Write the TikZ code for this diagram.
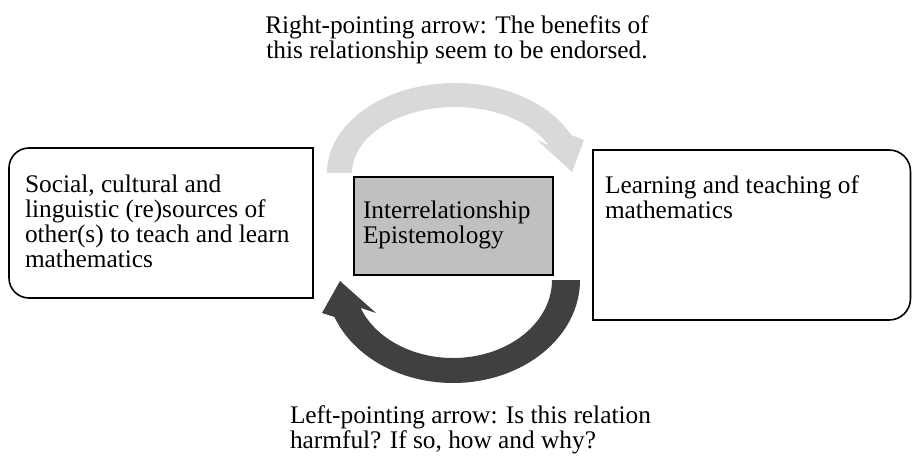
\documentclass[tikz,border=0pt]{standalone}
\usepackage{fontspec}
\setmainfont{Liberation Serif}
\definecolor{topgray}{HTML}{D9D9D9}
\definecolor{botgray}{HTML}{404040}
\definecolor{midgray}{HTML}{C0C0C0}
\begin{document}
\begin{tikzpicture}[x=0.75pt,y=0.75pt,
  box/.style={draw=none,inner sep=0pt,outer sep=0pt},
  lbl/.style={inner sep=0pt,outer sep=0pt,font=\fontsize{19}{18.75}\selectfont},
  outline/.style={draw=black,line width=1.2pt}]
\useasboundingbox (0,0) rectangle (912,457);
% arrows
\fill[topgray] (327,284) arc[start angle=180,end angle=25,x radius=96pt,y radius=67.5pt]
  -- (584,317) -- (572,285) -- (537,317)
  -- ({455+103*cos(25)},{284+66*sin(25)})
  arc[start angle=25,end angle=180,x radius=77.25pt,y radius=49.5pt] -- cycle;
\fill[botgray] (580,177) arc[start angle=360,end angle=201,x radius=95.25pt,y radius=77.25pt]
  -- (322,144) -- (340,176) -- (376,144)
  -- ({453+99*cos(201)},{177+78*sin(201)})
  arc[start angle=201,end angle=360,x radius=74.25pt,y radius=58.5pt] -- cycle;
% boxes
\node[box,minimum width=228pt,minimum height=112.5pt] (L) at (161,234) {};
\draw[outline] (L.north east) -- ([xshift=15pt]L.north west)
  arc[start angle=90,end angle=180,radius=15pt] -- ([yshift=15pt]L.south west)
  arc[start angle=180,end angle=270,radius=15pt] -- (L.south east) -- cycle;
\node[box,minimum width=238.1pt,minimum height=127.5pt] (R) at (751.75,222) {};
\draw[outline] (R.north west) -- ([xshift=-16pt]R.north east)
  arc[start angle=90,end angle=0,radius=16pt] -- ([yshift=16pt]R.south east)
  arc[start angle=0,end angle=-90,radius=16pt] -- (R.south west) -- cycle;
\node[box,draw=black,line width=0.8pt,fill=midgray,minimum width=149.25pt,minimum height=73.5pt] (C) at (453.5,231) {};
% texts
\node[lbl,anchor=north west,align=left] (Lt) at ([shift={(16,-27.4)}]L.north west)
  {Social, cultural and\\linguistic (re)sources of\\other(s) to teach and learn\\mathematics};
\node[lbl,anchor=north west,align=left] (Rt) at ([shift={(12,-26)}]R.north west)
  {Learning and teaching of\\mathematics};
\node[lbl,anchor=north west,align=left] (Ct) at ([shift={(9,-23.7)}]C.north west)
  {Interrelationship\\Epistemology};
\node[lbl,anchor=north,align=center] (T) at (457,441.5)
  {Right-pointing arrow: The benefits of\\this relationship seem to be endorsed.};
\node[lbl,anchor=north west,align=left] (B) at (290,51.5)
  {Left-pointing arrow: Is this relation\\harmful? If so, how and why?};
\end{tikzpicture}
\end{document}
